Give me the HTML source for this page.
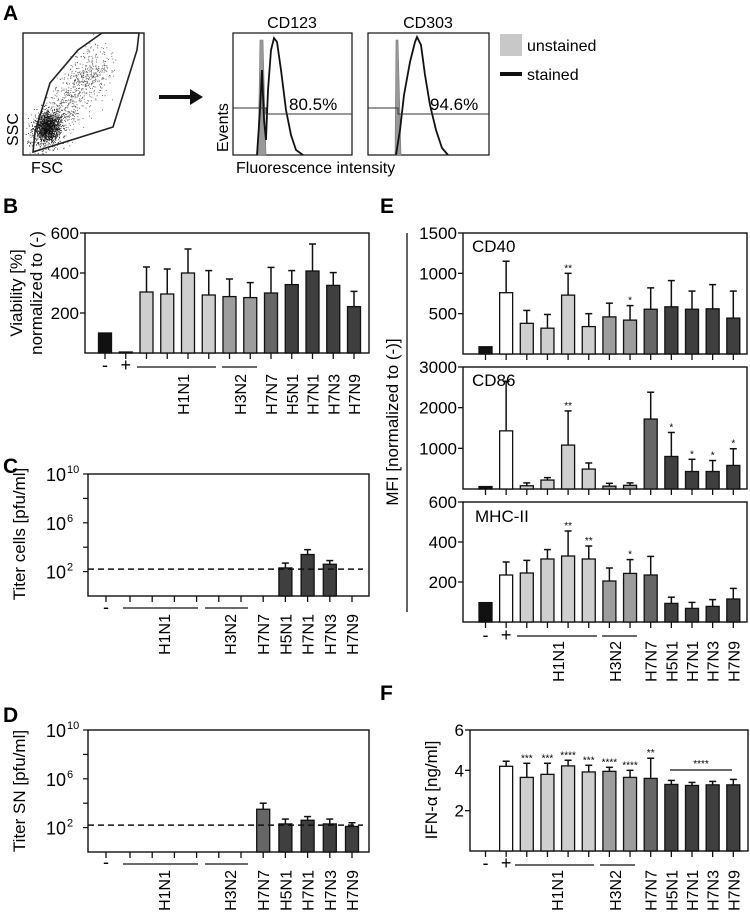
<!DOCTYPE html>
<html><head><meta charset="utf-8"><style>
html,body{margin:0;padding:0;background:#fff;}
svg{display:block;font-family:"Liberation Sans",Arial,sans-serif;}
</style></head><body>
<svg id="fig" width="750" height="916" viewBox="0 0 750 916" xmlns="http://www.w3.org/2000/svg">
<g id="panelA">
  <text x="3" y="20" font-size="21" font-weight="bold">A</text>
  <g id="dots"></g>
  <rect x="23" y="33" width="121" height="122" fill="none" stroke="#111" stroke-width="1.3"/>
  <polygon points="33,152 35,132 50,83 78,50 102,33 139,33 137,50 113,127" fill="none" stroke="#222" stroke-width="1.6"/>
  <text x="18" y="146" font-size="16" transform="rotate(-90 18 146)">SSC</text>
  <text x="31" y="173" font-size="16">FSC</text>
  <polygon points="159,95 190,95 190,89 203,97 190,105 190,99 159,99" fill="#111"/>
  <text x="292" y="28" font-size="16" text-anchor="middle">CD123</text>
  <text x="428" y="28" font-size="16" text-anchor="middle">CD303</text>
  <rect x="233" y="33" width="119" height="122" fill="none" stroke="#111" stroke-width="1.2"/>
  <rect x="368" y="33" width="121" height="122" fill="none" stroke="#111" stroke-width="1.2"/>
  <path d="M258,155 L260,40 L263,40 L266,155 Z" fill="#999" stroke="#777" stroke-width="0.6"/>
  <path d="M257,155 L260,110 L262,70 L264,120 L266,140 L268,90 L271,50 L274,38 L277,42 L281,70 L286,110 L291,135 L296,150 L303,155" fill="none" stroke="#111" stroke-width="1.8"/>
  <path d="M395,155 L396,40 L398,40 L401,155 Z" fill="#999" stroke="#777" stroke-width="0.6"/>
  <path d="M396,155 L400,130 L404,95 L410,62 L415,42 L417,37 L421,45 L425,75 L430,105 L436,130 L442,148 L448,155" fill="none" stroke="#111" stroke-width="1.8"/>
  <path d="M233,108 H266 V114 H352" fill="none" stroke="#333" stroke-width="1"/>
  <path d="M368,108 H398 V114 H489" fill="none" stroke="#333" stroke-width="1"/>
  <text x="289" y="110" font-size="17">80.5%</text>
  <text x="430" y="110" font-size="17">94.6%</text>
  <text x="228" y="152" font-size="16" transform="rotate(-90 228 152)">Events</text>
  <text x="236" y="173" font-size="16">Fluorescence intensity</text>
  <rect x="500" y="34" width="22" height="22" fill="#c8c8c8"/>
  <text x="527" y="51" font-size="16">unstained</text>
  <rect x="500" y="72" width="22" height="4" fill="#111"/>
  <text x="527" y="80" font-size="16">stained</text>
</g>
<g id="charts"></g>
</svg>
<script>
// ---- data ----
var catB = ["-","+","H1N1","H1N1","H1N1","H1N1","H3N2","H3N2","H7N7","H5N1","H7N1","H7N3","H7N9"];
var viability = [100,5,305,295,400,290,282,277,300,342,410,338,232];
var viabilityErr = [null,null,430,420,520,412,370,352,428,412,545,402,308];
var catC = ["-","H1N1","H1N1","H1N1","H1N1","H3N2","H3N2","H7N7","H5N1","H7N1","H7N3","H7N9"];
var titerCells = [null,null,null,null,null,null,null,null,200,2500,400,null];
var titerCellsErr = [null,null,null,null,null,null,null,null,500,6300,800,null];
var titerSN = [null,null,null,null,null,null,null,3200,200,400,200,125];
var titerSNErr = [null,null,null,null,null,null,null,10000,500,800,500,250];
var detectionLimit = 160;
var logTicks = ["10","10","10"];
var logTickExp = [10,6,2];
var cd40 = [90,760,380,320,730,340,460,420,555,585,555,560,445];
var cd40Err = [null,1150,540,490,1000,500,630,600,820,910,780,860,780];
var cd40Stars = ["","","","","**","","","*","","","","",""];
var cd86 = [60,1430,80,220,1080,490,70,90,1720,800,430,430,580];
var cd86Err = [null,2650,150,280,1920,640,140,150,2380,1390,730,700,990];
var cd86Stars = ["","","","","**","","","","","*","*","*","*"];
var mhc = [97,235,245,315,330,315,205,243,235,93,68,78,115];
var mhcErr = [null,300,308,362,455,380,270,312,328,124,98,112,168];
var mhcStars = ["","","","","**","**","","*","","","","",""];
var ifn = [0,4.2,3.65,3.8,4.22,3.92,3.95,3.65,3.6,3.3,3.25,3.28,3.28];
var ifnErr = [null,4.45,4.35,4.35,4.5,4.25,4.15,4.0,4.6,3.5,3.4,3.45,3.55];
var ifnStars = ["","","***","***","****","***","****","****","**","","","",""];
var ticksB = [200,400,600];
var ticksCD40 = [500,1000,1500];
var ticksCD86 = [1000,2000,3000];
var ticksMHC = [200,400,600];
var ticksIFN = [2,4,6];

var NS="http://www.w3.org/2000/svg";
var root=document.getElementById('charts');
function mk(tag,attrs,parent){var e=document.createElementNS(NS,tag);for(var k in attrs)e.setAttribute(k,attrs[k]);(parent||root).appendChild(e);return e;}
function txt(x,y,s,size,anchor,rot,name){var t=mk('text',{x:x,y:y,'font-size':size,'text-anchor':anchor||'start'});if(rot)t.setAttribute('transform','rotate(-90 '+x+' '+y+')');t.textContent=s;


return t;}
function colorFor(c,i){if(c==='-')return '#111';if(c==='+')return '#fff';if(c==='H1N1')return '#cfcfcf';if(c==='H3N2')return '#9d9d9d';if(c==='H7N7')return '#666';return '#3f3f3f';}
function line(x1,y1,x2,y2,w,name,dash){var l=mk('line',{x1:x1,y1:y1,x2:x2,y2:y2,stroke:'#111','stroke-width':w});if(dash)l.setAttribute('stroke-dasharray',dash);


return l;}

function barChart(o){
  var sy=o.log?function(v){return o.yBot-Math.log10(v)*(o.yBot-o.yTop)/o.vmax;}:function(v){return o.yBot-v*(o.yBot-o.yTop)/o.vmax;};
  var box=mk('rect',{x:o.x0,y:o.yTop,width:o.x1-o.x0,height:o.yBot-o.yTop,fill:'none',stroke:'#111','stroke-width':1.4});
  
  
  for(var i=0;i<o.vals.length;i++){
    var v=o.vals[i],x=o.xs[i];
    line(x,o.yBot,x,o.yBot+6,1.3,o.name+'-x-tick');
    if(v===null||v===undefined||v===0)continue;
    var y=sy(v), bw=13;
    if(o.errs[i]!==null){var ye=sy(o.errs[i]);line(x,y,x,ye,1.5,o.name+'-error-bar');line(x-3.5,ye,x+3.5,ye,1.5,o.name+'-error-cap');}
    var r=mk('rect',{x:x-bw/2,y:y,width:bw,height:Math.max(o.yBot-y,0.5),fill:colorFor(o.cats[i]),stroke:'#111','stroke-width':1.3});
    
    
    if(o.stars&&o.stars[i]){var ys=(o.errs[i]!==null?sy(o.errs[i]):y)-4;txt(x,ys+2,o.stars[i],10,'middle',false,o.name+'-significance');}
  }
  if(!o.log){
    for(var j=0;j<o.ticks.length;j++){var ty=sy(o.ticks[j]);line(o.x0-5,ty,o.x0,ty,1.3,o.name+'-y-tick');txt(o.x0-6,ty+6,String(o.ticks[j]),17,'end',false,o.name+'-y-tick-label');}
  } else {
    for(var e=2;e<=10;e+=2){var ty2=sy(Math.pow(10,e));line(o.x0-5,ty2,o.x0,ty2,1.2,o.name+'-y-tick');}
    for(var k=0;k<logTickExp.length;k++){var ty3=sy(Math.pow(10,logTickExp[k]));txt(o.x0-22,ty3+7,logTicks[k],18,'end',false,o.name+'-y-tick-label');
      txt(o.x0-21,ty3-1,String(logTickExp[k]),11,'start',false,o.name+'-y-tick-exponent');}
    line(o.x0,sy(detectionLimit),o.x1-6,sy(detectionLimit),1.5,o.name+'-detection-limit','6,4');
  }
  return sy;
}
function xLabels(o){
  for(var i=0;i<o.cats.length;i++){
    var c=o.cats[i];
    if(c==='-'||c==='+'){txt(o.xs[i],o.yMinus,c,18,'middle',false,o.name+'-x-label');}
    else if(c!=='H1N1'&&c!=='H3N2'){txt(o.xs[i]+6,o.labelY,c,16,'end',true,o.name+'-x-label');}
  }
  line(o.h1[0],o.lineY,o.h1[1],o.lineY,1.2,o.name+'-h1n1-bracket');
  line(o.h3[0],o.lineY,o.h3[1],o.lineY,1.2,o.name+'-h3n2-bracket');
  txt(o.h1[2]+6,o.labelY,'H1N1',16,'end',true,o.name+'-x-label-h1n1');
  txt(o.h3[2]+6,o.labelY,'H3N2',16,'end',true,o.name+'-x-label-h3n2');
}
var xsB=[],xsE=[],xsC=[];
for(var i=0;i<13;i++){xsB.push(105+20.75*i);xsE.push(485.5+20.65*i);}
xsC.push(106);for(var i=1;i<12;i++)xsC.push(130+22.2*(i-1));

// Panel B
txt(3,213,'B',21,'start',false,'panel-label-b').setAttribute('font-weight','bold');
barChart({name:'viability',x0:85,x1:369,yTop:233,yBot:353,vmax:600,cats:catB,xs:xsB,vals:viability,errs:viabilityErr,ticks:ticksB});
txt(22,293,'Viability [%]',17,'middle',true,'viability-y-title');
txt(42,293,'normalized to (-)',17,'middle',true,'viability-y-title-2');
xLabels({name:'viability',xs:xsB,cats:catB,yMinus:371,lineY:367,labelY:374,h1:[137,216,183],h3:[222,257,240]});

// Panel C
txt(3,473,'C',21,'start',false,'panel-label-c').setAttribute('font-weight','bold');
barChart({name:'titer-cells',x0:88,x1:369,yTop:474,yBot:596,vmax:10,log:true,cats:catC,xs:xsC,vals:titerCells,errs:titerCellsErr});
txt(25,534,'Titer cells [pfu/ml]',17,'middle',true,'titer-cells-y-title');
xLabels({name:'titer-cells',xs:xsC,cats:catC,yMinus:613,lineY:608,labelY:614,h1:[123,198,164],h3:[205,248,230]});

// Panel D
txt(3,722,'D',21,'start',false,'panel-label-d').setAttribute('font-weight','bold');
barChart({name:'titer-sn',x0:88,x1:369,yTop:730,yBot:852,vmax:10,log:true,cats:catC,xs:xsC,vals:titerSN,errs:titerSNErr});
txt(25,791,'Titer SN [pfu/ml]',17,'middle',true,'titer-sn-y-title');
xLabels({name:'titer-sn',xs:xsC,cats:catC,yMinus:868,lineY:864,labelY:870,h1:[123,198,164],h3:[205,248,230]});

// Panel E
txt(380,213,'E',21,'start',false,'panel-label-e').setAttribute('font-weight','bold');
barChart({name:'cd40',x0:463,x1:747,yTop:233,yBot:354,vmax:1500,cats:catB,xs:xsE,vals:cd40,errs:cd40Err,stars:cd40Stars,ticks:ticksCD40});
txt(472,252,'CD40',17,'start',false,'cd40-title');
barChart({name:'cd86',x0:463,x1:747,yTop:367,yBot:489,vmax:3000,cats:catB,xs:xsE,vals:cd86,errs:cd86Err,stars:cd86Stars,ticks:ticksCD86});
txt(472,386,'CD86',17,'start',false,'cd86-title');
barChart({name:'mhc-ii',x0:463,x1:747,yTop:502,yBot:622,vmax:600,cats:catB,xs:xsE,vals:mhc,errs:mhcErr,stars:mhcStars,ticks:ticksMHC});
txt(475,522,'MHC-II',17,'start',false,'mhc-ii-title');
line(407,233,407,612,1.3,'mfi-bracket');
txt(398,422,'MFI [normalized to (-)]',17,'middle',true,'mfi-y-title');
xLabels({name:'mfi',xs:xsE,cats:catB,yMinus:641,lineY:636,labelY:641,h1:[517,597,558],h3:[602,637,615]});

// Panel F
txt(380,700,'F',21,'start',false,'panel-label-f').setAttribute('font-weight','bold');
barChart({name:'ifn',x0:470,x1:748,yTop:730,yBot:851,vmax:6,cats:catB,xs:xsE,vals:ifn,errs:ifnErr,stars:ifnStars,ticks:ticksIFN});
line(670,770,732,770,1.2,'ifn-h5-h7-bracket');
txt(701,767,'****',10,'middle',false,'ifn-group-significance');
txt(437,790,'IFN-α [ng/ml]',17,'middle',true,'ifn-y-title');
xLabels({name:'ifn',xs:xsE,cats:catB,yMinus:869,lineY:865,labelY:870,h1:[515,594,557],h3:[600,635,615]});

// scatter dots (decorative, deterministic)
var dg=document.getElementById('dots');var s=12345;function rnd(){s=(s*1103515245+12345)%2147483648;return s/2147483648;}
for(var n=0;n<2200;n++){var a=rnd(),b=rnd(),c=rnd();var r=Math.sqrt(-2*Math.log(a+1e-6));var gx=r*Math.cos(6.283*b),gy=r*Math.sin(6.283*b);
var px,py;
if(c<0.55){px=47+gx*6+gy*2;py=127+gy*7-gx*3;}
else{var t=rnd();px=40+t*60+gx*9;py=140-t*80+gy*12;}
if(px<24||px>143||py<34||py>154)continue;mk('rect',{x:px,y:py,width:0.9,height:0.9,fill:(c<0.55?'#111':'#555')},dg);}
</script>
</body></html>
